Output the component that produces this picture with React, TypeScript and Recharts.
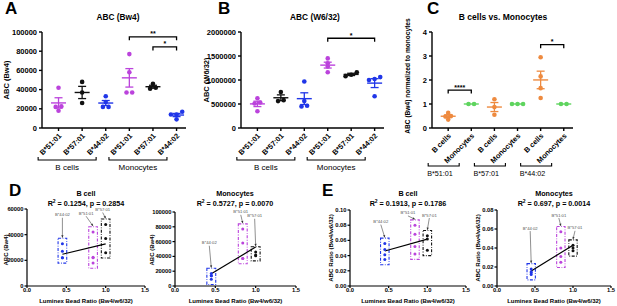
import React from "react";
import {
  ErrorBar,
  ReferenceArea,
  ReferenceLine,
  Scatter,
  ScatterChart,
  XAxis,
  YAxis,
} from "recharts";

const FONT = "Arial, 'Liberation Sans', Helvetica, sans-serif";
const PURPLE = "#bb43dc";
const BLUE = "#2036e8";
const BLACK = "#111111";
const ORANGE = "#ee8a3f";
const GREEN = "#5fd45f";

// ---- data ----
const alleles = ["B*51:01", "B*57:01", "B*44:02"];
const cellTypes = ["B cells", "Monocytes"];

// ABC (Bw4)
const bw4BCell51 = [42000, 22000, 18000, 22500];
const bw4BCell57 = [48000, 37000, 26000];
const bw4BCell44 = [33000, 22000, 22000, 27000];
const bw4Mono51 = [77000, 58000, 37000, 37000];
const bw4Mono57 = [46000, 42000, 41000];
const bw4Mono44 = [17000, 14000, 9000, 14000];

// ABC (W6/32)
const w6BCell51 = [620000, 530000, 510000, 350000];
const w6BCell57 = [750000, 580000, 560000];
const w6BCell44 = [970000, 560000, 465000, 450000];
const w6Mono51 = [1450000, 1350000, 1280000, 1160000];
const w6Mono57 = [1160000, 1110000, 1080000];
const w6Mono44 = [1060000, 1020000, 1000000, 660000];

// ABC (Bw4) of B cells normalized to monocytes
const normBCell51 = [0.63, 0.5, 0.48, 0.35];
const normMono51 = [1, 1];
const normBCell57 = [1.2, 0.87, 0.55];
const normMono57 = [1, 1, 1];
const normBCell44 = [2.95, 2.15, 1.66, 1.25];
const normMono44 = [1, 1];

// Luminex bead ratio (Bw4/w6/32) per allele: B*51:01, B*57:01, B*44:02
const beadRatio = [0.84, 1.0, 0.45];

// ABC ratio (Bw4/w6/32)
const ratioBCell51 = [0.08, 0.068, 0.052, 0.042];
const ratioBCell57 = [0.066, 0.062, 0.047];
const ratioBCell44 = [0.056, 0.048, 0.041, 0.035];
const ratioMono51 = [0.057, 0.04, 0.031, 0.025];
const ratioMono57 = [0.043, 0.04, 0.037];
const ratioMono44 = [0.018, 0.015, 0.014, 0.012];

const fitText = [
  "= 0.1254, p = 0.2854",
  "= 0.5727, p = 0.0070",
  "= 0.1913, p = 0.1786",
  "= 0.697, p = 0.0014",
];

const ticksBw4 = [0, 20000, 40000, 60000, 80000, 100000];
const ticksW6 = [0, 500000, 1000000, 1500000, 2000000];
const ticksNorm = [0, 1, 2, 3, 4];
const ticksDB = [0, 20000, 40000, 60000];
const ticksRatioB = [0, 0.02, 0.04, 0.06, 0.08, 0.1];
const ticksRatioM = [0, 0.02, 0.04, 0.06, 0.08];
const ticksBead = [0, 0.5, 1, 1.5];
const catTicks = [1, 2, 3, 4, 5, 6];

const sigA = [
  { from: 4, to: 6, level: 95000, label: "**" },
  { from: 5, to: 6, level: 84500, label: "*" },
];
const sigB = [{ from: 4, to: 6, level: 1870000, label: "*" }];
const sigC = [
  { from: 1, to: 2, level: 1.58, label: "****" },
  { from: 5, to: 6, level: 3.47, label: "*" },
];

// ---- helpers ----
type Group = { cat: number; values: number[]; color: string };
type Band = { at: number; text: string };

function swarm(values: number[], tol: number, step: number) {
  const order = values.map((_, i) => i).sort((a, b) => values[a] - values[b]);
  const offs = values.map(() => 0);
  let cluster: number[] = [];
  const flush = () => {
    cluster.forEach((idx, k) => {
      offs[idx] = (k - (cluster.length - 1) / 2) * step;
    });
    cluster = [];
  };
  order.forEach((idx) => {
    if (cluster.length && values[idx] - values[cluster[cluster.length - 1]] > tol) flush();
    cluster.push(idx);
  });
  flush();
  return offs;
}

function meanSem(values: number[]) {
  const n = values.length;
  const m = values.reduce((s, v) => s + v, 0) / n;
  const sd = Math.sqrt(values.reduce((s, v) => s + (v - m) ** 2, 0) / Math.max(n - 1, 1));
  return { mean: m, sem: sd / Math.sqrt(n) };
}

const dot = (r: number) => (p: any) => <circle cx={p.cx} cy={p.cy} r={r} fill={p.fill} />;

const meanLine = (half: number, color: string) => (p: any) => (
  <line x1={p.cx - half} x2={p.cx + half} y1={p.cy} y2={p.cy} stroke={color} strokeWidth={1.4} />
);

const sigBracket = (label: string) => (p: any) => {
  const { x1, x2, y1 } = p;
  return (
    <g>
      <path d={`M${x1} ${y1 + 3.5}V${y1}H${x2}V${y1 + 3.5}`} stroke="#000" strokeWidth={1.3} fill="none" />
      <text x={(x1 + x2) / 2} y={y1 - 0.5} textAnchor="middle" fontSize={7} fontWeight="bold" fontFamily={FONT}>
        {label}
      </text>
    </g>
  );
};

interface CatProps {
  left: number;
  width: number;
  yWidth: number;
  marginRight: number;
  axisHeight: number;
  yMax: number;
  yTicks: number[];
  groups: Group[];
  labels: string[];
  bands: Band[];
  bandKind: "center" | "left";
  sig: { from: number; to: number; level: number; label: string }[];
  meanHalf: number;
}

function CatPanel(props: CatProps) {
  const { left, width, yWidth, marginRight, axisHeight, yMax, yTicks, groups, labels, bands, bandKind, sig, meanHalf } = props;

  const tick = (p: any) => {
    const { x, y, payload } = p;
    const band = bands.find((b) => b.at === payload.value);
    const ax = x + 1.5;
    const ay = y + 1.5;
    const by = bandKind === "center" ? y + 27 : y + 33;
    return (
      <g>
        <text
          x={ax}
          y={ay}
          dy="0.35em"
          transform={`rotate(-45 ${ax} ${ay})`}
          textAnchor="end"
          fontSize={7.4}
          fontWeight="bold"
          fontFamily={FONT}
          fill="#000"
        >
          {labels[payload.value - 1]}
        </text>
        {band && bandKind === "center" && (
          <g>
            <path d={`M${x - 44} ${by - 3}V${by}H${x + 14}V${by - 3}`} stroke="#000" strokeWidth={1.1} fill="none" />
            <text x={x - 15} y={by + 7} dy="0.35em" textAnchor="middle" fontSize={8} fontFamily={FONT} fill="#000">
              {band.text}
            </text>
          </g>
        )}
        {band && bandKind === "left" && (
          <g>
            <path d={`M${x - 20} ${by - 3}V${by}H${x + 11}V${by - 3}`} stroke="#000" strokeWidth={1.1} fill="none" />
            <text x={x - 21} y={by + 7.5} dy="0.35em" textAnchor="start" fontSize={7.2} fontFamily={FONT} fill="#000">
              {band.text}
            </text>
          </g>
        )}
      </g>
    );
  };

  return (
    <div style={{ position: "absolute", left, top: 0 }}>
      <ScatterChart width={width} height={128 + axisHeight} margin={{ top: 32, right: marginRight, bottom: 0, left: 0 }}>
        <XAxis
          type="number"
          dataKey="x"
          domain={[0.3, 6.4]}
          ticks={catTicks}
          interval={0}
          tick={tick}
          tickSize={3}
          height={axisHeight}
          stroke="#000"
          strokeWidth={1.4}
          allowDataOverflow
        />
        <YAxis
          type="number"
          dataKey="y"
          domain={[0, yMax]}
          ticks={yTicks}
          interval={0}
          width={yWidth}
          tickSize={3}
          stroke="#000"
          strokeWidth={1.4}
          tick={{ fontSize: 7.5, fontWeight: "bold", fill: "#000", fontFamily: FONT }}
        />
        {groups.map((g) => {
          const offs = swarm(g.values, yMax * 0.03, 0.24);
          return (
            <Scatter
              key={`p${g.cat}`}
              data={g.values.map((v, i) => ({ x: g.cat + offs[i], y: v }))}
              fill={g.color}
              shape={dot(2.3)}
              isAnimationActive={false}
            />
          );
        })}
        {groups.map((g) => {
          const s = meanSem(g.values);
          return (
            <Scatter
              key={`m${g.cat}`}
              data={[{ x: g.cat, y: s.mean, sem: s.sem }]}
              fill={g.color}
              shape={meanLine(meanHalf, g.color)}
              isAnimationActive={false}
            >
              <ErrorBar dataKey="sem" direction="y" width={4} stroke={g.color} strokeWidth={1.3} isAnimationActive={false} />
            </Scatter>
          );
        })}
        {sig.map((s, i) => (
          <ReferenceLine
            key={`s${i}`}
            segment={[
              { x: s.from, y: s.level },
              { x: s.to, y: s.level },
            ]}
            shape={sigBracket(s.label)}
          />
        ))}
      </ScatterChart>
    </div>
  );
}

type RatioGroup = { allele: string; x: number; values: number[]; color: string };

function linearFit(groups: RatioGroup[]) {
  const xs: number[] = [];
  const ys: number[] = [];
  groups.forEach((g) => g.values.forEach((v) => { xs.push(g.x); ys.push(v); }));
  const n = xs.length;
  const mx = xs.reduce((s, v) => s + v, 0) / n;
  const my = ys.reduce((s, v) => s + v, 0) / n;
  let sxy = 0;
  let sxx = 0;
  xs.forEach((x, i) => { sxy += (x - mx) * (ys[i] - my); sxx += (x - mx) ** 2; });
  const b = sxy / sxx;
  const a = my - b * mx;
  const x0 = Math.min(...xs);
  const x1 = Math.max(...xs);
  return [
    { x: x0, y: a + b * x0 },
    { x: x1, y: a + b * x1 },
  ];
}

const boxShape = (g: RatioGroup, note: number[]) => (p: any) => {
  const { x, y, width, height } = p;
  const cx = x + width / 2;
  const lx = cx + note[0];
  const ly = y + note[1];
  const sx = lx;
  const sy = ly + 1.5;
  const ex = cx;
  const ey = y - 0.6;
  const ang = Math.atan2(ey - sy, ex - sx);
  const ah = 2.6;
  const pts = [
    `${ex},${ey}`,
    `${ex - ah * Math.cos(ang - 0.45)},${ey - ah * Math.sin(ang - 0.45)}`,
    `${ex - ah * Math.cos(ang + 0.45)},${ey - ah * Math.sin(ang + 0.45)}`,
  ].join(" ");
  return (
    <g>
      <rect x={x} y={y} width={width} height={height} fill="none" stroke={g.color} strokeWidth={1.1} strokeDasharray="3 1.5 0.8 1.5" />
      <line x1={sx} y1={sy} x2={ex} y2={ey} stroke="#444" strokeWidth={0.6} />
      <polygon points={pts} fill="#333" />
      <text x={lx} y={ly} textAnchor="middle" fontSize={4.2} fill="#555" fontFamily={FONT}>
        {g.allele}
      </text>
    </g>
  );
};

interface RatioProps {
  left: number;
  top: number;
  width: number;
  yWidth: number;
  marginTop: number;
  marginRight: number;
  yMax: number;
  yTicks: number[];
  yFmt: (v: number) => string;
  groups: RatioGroup[];
  notes: number[][];
}

function RatioPanel(props: RatioProps) {
  const { left, top, width, yWidth, marginTop, marginRight, yMax, yTicks, yFmt, groups, notes } = props;
  const pad = yMax * 0.07;
  const fit = linearFit(groups);
  return (
    <div style={{ position: "absolute", left, top }}>
      <ScatterChart width={width} height={306 - top} margin={{ top: marginTop, right: marginRight, bottom: 0, left: 0 }}>
        <XAxis
          type="number"
          dataKey="x"
          domain={[0, 1.5]}
          ticks={ticksBead}
          interval={0}
          tickFormatter={(v: number) => v.toFixed(1)}
          tickSize={2}
          tickMargin={0}
          height={20}
          stroke="#000"
          strokeWidth={1.2}
          tick={{ fontSize: 5.8, fontWeight: "bold", fill: "#000", fontFamily: FONT }}
          label={{
            value: "Luminex Bead Ratio (Bw4/w6/32)",
            position: "insideBottom",
            offset: 3,
            fontSize: 6,
            fontWeight: "bold",
            fill: "#000",
            fontFamily: FONT,
          }}
        />
        <YAxis
          type="number"
          dataKey="y"
          domain={[0, yMax]}
          ticks={yTicks}
          interval={0}
          tickFormatter={yFmt}
          width={yWidth}
          tickSize={2.5}
          tickMargin={1}
          stroke="#000"
          strokeWidth={1.2}
          tick={{ fontSize: 5.8, fontWeight: "bold", fill: "#000", fontFamily: FONT }}
        />
        {groups.map((g, i) => (
          <ReferenceArea
            key={`b${i}`}
            x1={g.x - 0.055}
            x2={g.x + 0.055}
            y1={Math.min(...g.values) - pad}
            y2={Math.max(...g.values) + pad}
            shape={boxShape(g, notes[i])}
          />
        ))}
        {groups.map((g, i) => (
          <Scatter
            key={`p${i}`}
            data={g.values.map((v) => ({ x: g.x, y: v }))}
            fill={g.color}
            shape={dot(1.5)}
            isAnimationActive={false}
          />
        ))}
        <ReferenceLine segment={fit} stroke="#000" strokeWidth={1.2} />
      </ScatterChart>
    </div>
  );
}

// ---- text overlays ----
function Txt({ x, y, size, bold = true, children }: { x: number; y: number; size: number; bold?: boolean; children: React.ReactNode }) {
  return (
    <div
      style={{
        position: "absolute",
        left: x,
        top: y,
        transform: "translate(-50%, -50%)",
        fontSize: size,
        fontWeight: bold ? 700 : 400,
        whiteSpace: "nowrap",
        lineHeight: 1,
      }}
    >
      {children}
    </div>
  );
}

function VTxt({ x, y, size, children }: { x: number; y: number; size: number; children: React.ReactNode }) {
  return (
    <div
      style={{
        position: "absolute",
        left: x,
        top: y,
        transform: "translate(-50%, -50%) rotate(-90deg)",
        fontSize: size,
        fontWeight: 700,
        whiteSpace: "nowrap",
        lineHeight: 1,
      }}
    >
      {children}
    </div>
  );
}

function Letter({ x, y, text }: { x: number; y: number; text: string }) {
  return (
    <div style={{ position: "absolute", left: x, top: y, fontSize: 17, fontWeight: 700, lineHeight: 1 }}>{text}</div>
  );
}

function FitTitle({ x, title, stat }: { x: number; title: string; stat: string }) {
  return (
    <>
      <Txt x={x} y={194} size={7.2}>{title}</Txt>
      <Txt x={x} y={204} size={7.2}>
        R<sup style={{ fontSize: 5, lineHeight: 0, verticalAlign: "super" }}>2</sup> {stat}
      </Txt>
    </>
  );
}

export default function App() {
  const abLabels = [...alleles, ...alleles];
  const cLabels = [...cellTypes, ...cellTypes, ...cellTypes];
  const colorOf = [PURPLE, BLACK, BLUE];

  const groupsA: Group[] = [bw4BCell51, bw4BCell57, bw4BCell44, bw4Mono51, bw4Mono57, bw4Mono44].map((values, i) => ({
    cat: i + 1,
    values,
    color: colorOf[i % 3],
  }));
  const groupsB: Group[] = [w6BCell51, w6BCell57, w6BCell44, w6Mono51, w6Mono57, w6Mono44].map((values, i) => ({
    cat: i + 1,
    values,
    color: colorOf[i % 3],
  }));
  const groupsC: Group[] = [normBCell51, normMono51, normBCell57, normMono57, normBCell44, normMono44].map((values, i) => ({
    cat: i + 1,
    values,
    color: i % 2 === 0 ? ORANGE : GREEN,
  }));

  const ratioGroups = (sets: number[][]): RatioGroup[] =>
    sets.map((values, i) => ({ allele: alleles[i], x: beadRatio[i], values, color: colorOf[i] }));

  const fmtInt = (v: number) => String(v);
  const fmt2 = (v: number) => v.toFixed(2);

  return (
    <div
      style={{
        position: "absolute",
        left: 0,
        top: 0,
        width: 617,
        height: 306,
        overflow: "hidden",
        background: "#fff",
        fontFamily: FONT,
        color: "#000",
      }}
    >
      <CatPanel
        left={0}
        width={200}
        yWidth={42}
        marginRight={14}
        axisHeight={48}
        yMax={100000}
        yTicks={ticksBw4}
        groups={groupsA}
        labels={abLabels}
        bands={[{ at: 2, text: cellTypes[0] }, { at: 5, text: cellTypes[1] }]}
        bandKind="center"
        sig={sigA}
        meanHalf={7.5}
      />
      <CatPanel
        left={200}
        width={200}
        yWidth={41}
        marginRight={16}
        axisHeight={48}
        yMax={2000000}
        yTicks={ticksW6}
        groups={groupsB}
        labels={abLabels}
        bands={[{ at: 2, text: cellTypes[0] }, { at: 5, text: cellTypes[1] }]}
        bandKind="center"
        sig={sigB}
        meanHalf={7.5}
      />
      <CatPanel
        left={400}
        width={217}
        yWidth={32}
        marginRight={44}
        axisHeight={54}
        yMax={4}
        yTicks={ticksNorm}
        groups={groupsC}
        labels={cLabels}
        bands={alleles.map((a, i) => ({ at: i * 2 + 1, text: a }))}
        bandKind="left"
        sig={sigC}
        meanHalf={7.5}
      />

      <RatioPanel
        left={0}
        top={205}
        width={153}
        yWidth={27}
        marginTop={4}
        marginRight={8}
        yMax={60000}
        yTicks={ticksDB}
        yFmt={fmtInt}
        groups={ratioGroups([bw4BCell51, bw4BCell57, bw4BCell44])}
        notes={[[-7, -12], [-3, -8], [0, -22]]}
      />
      <RatioPanel
        left={150}
        top={205}
        width={155}
        yWidth={25}
        marginTop={7}
        marginRight={9}
        yMax={100000}
        yTicks={ticksBw4}
        yFmt={fmtInt}
        groups={ratioGroups([bw4Mono51, bw4Mono57, bw4Mono44])}
        notes={[[-2, -10.5], [-1, -29.5], [-2, -24]]}
      />
      <RatioPanel
        left={322}
        top={205}
        width={150}
        yWidth={28}
        marginTop={5}
        marginRight={6}
        yMax={0.1}
        yTicks={ticksRatioB}
        yFmt={fmt2}
        groups={ratioGroups([ratioBCell51, ratioBCell57, ratioBCell44])}
        notes={[[-7, -5.5], [2, -14], [-4, -15]]}
      />
      <RatioPanel
        left={470}
        top={205}
        width={147}
        yWidth={27}
        marginTop={5}
        marginRight={6}
        yMax={0.08}
        yTicks={ticksRatioM}
        yFmt={fmt2}
        groups={ratioGroups([ratioMono51, ratioMono57, ratioMono44])}
        notes={[[-2, -10], [2, -10.5], [-1, -34]]}
      />

      <Letter x={5} y={0} text="A" />
      <Letter x={218} y={0} text="B" />
      <Letter x={427} y={0} text="C" />
      <Letter x={9} y={182} text="D" />
      <Letter x={322} y={182} text="E" />

      <Txt x={118} y={17} size={8.3}>ABC (Bw4)</Txt>
      <Txt x={315} y={17} size={8.3}>ABC (W6/32)</Txt>
      <Txt x={503} y={17} size={8.5}>B cells vs. Monocytes</Txt>

      <VTxt x={7} y={80} size={7.5}>ABC (Bw4)</VTxt>
      <VTxt x={207} y={80} size={7.5}>ABC (W6/32)</VTxt>
      <VTxt x={408} y={76} size={6.6}>ABC (Bw4) normalized to monocytes</VTxt>

      <FitTitle x={86} title="B cell" stat={fitText[0]} />
      <FitTitle x={235} title="Monocytes" stat={fitText[1]} />
      <FitTitle x={408} title="B cell" stat={fitText[2]} />
      <FitTitle x={554} title="Monocytes" stat={fitText[3]} />

      <VTxt x={6} y={250} size={6}>ABC (Bw4)</VTxt>
      <VTxt x={152} y={250} size={6}>ABC (Bw4)</VTxt>
      <VTxt x={331} y={248} size={6.2}>ABC Ratio (Bw4/w6/32)</VTxt>
      <VTxt x={478} y={248} size={6.2}>ABC Ratio (Bw4/w6/32)</VTxt>
    </div>
  );
}
